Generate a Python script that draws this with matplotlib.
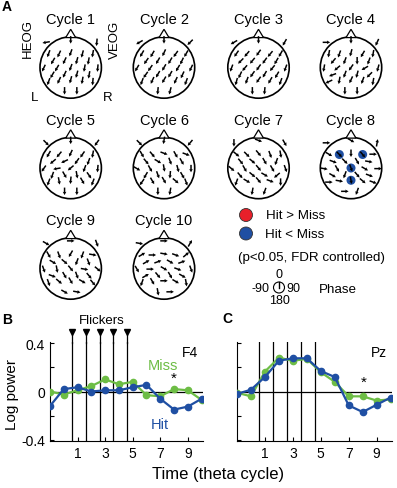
import matplotlib
matplotlib.use("Agg")
import matplotlib.pyplot as plt
import numpy as np
from matplotlib.patches import Circle, Polygon

plt.rcParams['font.family'] = ['Liberation Sans', 'DejaVu Sans']

# ---- data -------------------------------------------------------------
elec_names = ['Fp1', 'Fpz', 'Fp2', 'F7', 'F3', 'Fz', 'F4', 'F8',
              'FC5', 'FC1', 'FC2', 'FC6', 'T7', 'C3', 'Cz', 'C4', 'T8',
              'CP5', 'CP1', 'CP2', 'CP6', 'P7', 'P3', 'Pz', 'P4', 'P8',
              'O1', 'O2']
elec_x = [-0.80, 0.0, 0.85, -0.72, -0.38, 0.0, 0.38, 0.72,
          -0.58, -0.20, 0.20, 0.58, -0.88, -0.45, 0.0, 0.45, 0.88,
          -0.60, -0.20, 0.20, 0.60, -0.72, -0.38, 0.0, 0.38, 0.72,
          -0.20, 0.20]
elec_y = [0.82, 0.90, 0.82, 0.45, 0.44, 0.48, 0.44, 0.45,
          0.21, 0.22, 0.22, 0.21, -0.02, -0.02, 0.0, -0.02, -0.02,
          -0.24, -0.22, -0.22, -0.24, -0.46, -0.42, -0.40, -0.42, -0.46,
          -0.76, -0.76]

# phase (deg): 0 = up, 90 = right, 180 = down, -90 = left
phase_c1 = [260, 180, 185, 200, 205, 200, 195, 190, 210, 205, 195, 190, 205, 210,
            200, 190, 185, 210, 205, 195, 190, 200, 205, 195, 190, 185, 180, 180]
phase_c2 = [240, 180, 225, 210, 210, 205, 215, 210, 215, 210, 210, 205, 210, 215,
            210, 210, 205, 215, 210, 210, 205, 200, 205, 210, 205, 200, 185, 195]
phase_c3 = [240, 180, 210, 215, 220, 215, 220, 210, 225, 220, 215, 210, 200, 220,
            215, 220, 200, 205, 215, 210, 210, 195, 200, 215, 210, 200, 180, 185]
phase_c4 = [90, 180, 205, 190, 200, 195, 210, 190, 220, 200, 180, 200, 190, 230,
            215, 240, 195, 250, 200, 195, 225, 245, 190, 205, 200, 190, 180, 180]
phase_c5 = [135, 180, 215, 210, 220, 205, 215, 190, 230, 245, 215, 200, 215, 260,
            230, 200, 185, 200, 150, 170, 145, 200, 170, 185, 150, 200, 180, 180]
phase_c6 = [135, 190, 220, 150, 140, 110, 150, 110, 140, 120, 160, 150, 120, 150,
            170, 165, 180, 210, 160, 185, 150, 215, 150, 150, 130, 160, 180, 190]
phase_c7 = [180, 110, 150, 130, 135, 140, 160, 170, 140, 130, 150, 200, 130, 150,
            140, 150, 160, 140, 130, 120, 230, 200, 120, 140, 110, 180, 190, 200]
phase_c8 = [90, 120, 10, 120, 135, 180, 140, 90, 110, 135, 150, 100, 100, 150,
            160, 120, 90, 120, 200, 140, 110, 90, 100, 170, 130, 110, 90, 200]
phase_c9 = [120, 90, 160, 150, 160, 210, 200, 100, 120, 130, 200, 160, 160, 170,
            140, 100, 130, 110, 150, 160, 140, 160, 130, 150, 120, 140, 120, 100]
phase_c10 = [100, 90, 30, 60, 90, 100, 110, 50, 60, 70, 120, 70, 150, 90,
             120, 110, 160, 60, 140, 150, 120, 200, 150, 90, 120, 170, 170, 90]
phases = [phase_c1, phase_c2, phase_c3, phase_c4, phase_c5,
          phase_c6, phase_c7, phase_c8, phase_c9, phase_c10]

sig_cycle = 8
sig_elecs = ['F3', 'F4', 'Cz', 'Pz']   # Hit < Miss

cycles = np.arange(-1, 11)
flickers = [0.6, 1.6, 2.6, 3.6, 4.6]
f4_miss = [0.0, -0.025, 0.01, 0.045, 0.10, 0.06, 0.08, -0.03, -0.04, 0.02, 0.01, -0.07]
f4_hit = [-0.12, 0.02, 0.035, 0.0, 0.01, 0.01, 0.035, 0.055, -0.06, -0.15, -0.125, -0.06]
pz_miss = [-0.01, -0.04, 0.165, 0.28, 0.255, 0.27, 0.16, 0.08, -0.04, -0.04, -0.075, -0.065]
pz_hit = [-0.02, 0.015, 0.12, 0.255, 0.275, 0.275, 0.17, 0.12, -0.115, -0.17, -0.11, -0.05]

GREEN = '#6dbd45'
BLUE = '#1f4fa3'
RED = '#e8202a'

W, H = 397, 489
fig = plt.figure(figsize=(W / 100, H / 100), dpi=100)

# ---- panel A: phase topographies (pixel coordinates) ---------------------
top = fig.add_axes([0, 0, 1, 1])
top.set_xlim(0, W)
top.set_ylim(H, 0)
top.axis('off')

col_x = [70.7, 164.0, 258.5, 351.0]
row_y = [68.5, 169.0, 269.5]
R = 30.7
L_ARR = 7.5

for k in range(10):
    cx = col_x[k % 4]
    cy = row_y[k // 4]
    top.add_patch(Circle((cx, cy), R, fill=False, lw=1.2, ec='black', zorder=2))
    top.add_patch(Polygon([(cx - 5, cy - R + 0.8), (cx + 5, cy - R + 0.8), (cx, cy - R - 7.5)],
                          closed=True, fc='white', ec='black', lw=0.9, zorder=2))
    top.text(cx, cy - 48.5, f'Cycle {k + 1}', ha='center', va='center', fontsize=10.5)

    ex = cx + R * np.array(elec_x)
    ey = cy - R * np.array(elec_y)
    ph = np.deg2rad(phases[k])
    if k + 1 == sig_cycle:
        for name in sig_elecs:
            i = elec_names.index(name)
            top.add_patch(Circle((ex[i], ey[i]), 4.5, fc=BLUE, ec='none', zorder=3))
    top.quiver(ex, ey, L_ARR * np.sin(ph), -L_ARR * np.cos(ph), pivot='middle',
               angles='xy', scale_units='xy', scale=1, units='xy',
               width=1.5, headwidth=2.4, headlength=2.2, headaxislength=2.0,
               color='black', zorder=4)

top.text(7, 7, 'A', fontsize=10, fontweight='bold', ha='center', va='center')
top.text(28, 39, 'HEOG', rotation=90, fontsize=9.5, ha='center', va='center')
top.text(115, 40, 'VEOG', rotation=90, fontsize=9.5, ha='center', va='center')
top.text(35, 98, 'L', fontsize=9.5, ha='center', va='center')
top.text(108, 98, 'R', fontsize=9.5, ha='center', va='center')

# legend
top.add_patch(Circle((246, 216), 6.5, fc=RED, ec='#333333', lw=0.6))
top.add_patch(Circle((246, 234.5), 6.5, fc=BLUE, ec='#333333', lw=0.6))
top.text(266, 216, 'Hit > Miss', fontsize=9.6, ha='left', va='center')
top.text(265, 234.5, 'Hit < Miss', fontsize=9.6, ha='left', va='center')
top.text(312, 258, '(p<0.05, FDR controlled)', fontsize=9.6, ha='center', va='center')
top.add_patch(Circle((279, 288.5), 5.5, fill=False, ec='black', lw=0.8))
top.plot([279, 279], [288.5, 282.5], color='black', lw=1.0)
top.text(279, 275.5, '0', fontsize=9, ha='center', va='center')
top.text(270, 288.5, '-90', fontsize=9, ha='right', va='center')
top.text(286, 288.5, '90', fontsize=9, ha='left', va='center')
top.text(279, 301, '180', fontsize=9, ha='center', va='center')
top.text(338, 290, 'Phase', fontsize=9.6, ha='center', va='center')

top.text(7, 320, 'B', fontsize=10, fontweight='bold', ha='center', va='center')
top.text(227, 319, 'C', fontsize=10, fontweight='bold', ha='center', va='center')
top.text(218, 475, 'Time (theta cycle)', fontsize=12, ha='center', va='center')
top.text(12, 394, 'Log power', rotation=90, fontsize=11, ha='center', va='center')


# ---- panels B and C ---------------------------------------------------
def power_panel(rect, miss, hit, label, show_ylabels):
    ax = fig.add_axes(rect)
    ax.set_xlim(-1, 10.1)
    ax.set_ylim(-0.41, 0.41)
    for s in ['top', 'right']:
        ax.spines[s].set_visible(False)
    ax.axhline(0, color='black', lw=0.9, zorder=1)
    for f in flickers:
        ax.axvline(f, color='black', lw=0.9, zorder=1)
    ax.plot(cycles, miss, '-o', color=GREEN, lw=1.6, ms=4.5, zorder=3)
    ax.plot(cycles, hit, '-o', color=BLUE, lw=1.6, ms=4.5, zorder=4)
    ax.set_xticks([1, 3, 5, 7, 9])
    ax.set_yticks([-0.4, -0.2, 0, 0.2, 0.4])
    if show_ylabels:
        ax.set_yticklabels(['-0.4', '', '0', '', '0.4'])
    else:
        ax.set_yticklabels([])
    ax.tick_params(direction='in', length=3, labelsize=10, width=0.8)
    ax.text(0.97, 0.9, label, transform=ax.transAxes, fontsize=10, ha='right', va='center')
    return ax


axB = power_panel([50 / W, 1 - 442 / H, 153 / W, 99 / H], f4_miss, f4_hit, 'F4', True)
axC = power_panel([237 / W, 1 - 442 / H, 155 / W, 99 / H], pz_miss, pz_hit, 'Pz', False)

# flicker markers above B
for f in flickers:
    axB.plot([f, f], [0.4, 0.47], color='black', lw=0.9, clip_on=False)
axB.plot(flickers, [0.49] * len(flickers), 'v', color='black', ms=4.5, clip_on=False)
axB.text(2.75, 0.59, 'Flickers', fontsize=9.5, ha='center', va='center')

axB.text(7.2, 0.22, 'Miss', color=GREEN, fontsize=10.5, ha='center', va='center')
axB.text(7.0, -0.27, 'Hit', color=BLUE, fontsize=10.5, ha='center', va='center')
axB.text(8.0, 0.11, '*', fontsize=11, ha='center', va='center')
axC.text(8.1, 0.08, '*', fontsize=11, ha='center', va='center')

fig.savefig('out.png', dpi=100)
